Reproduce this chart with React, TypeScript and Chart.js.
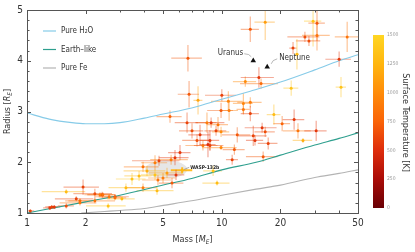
import React, { useEffect, useRef } from "react";
import { Chart, registerables } from "chart.js";
Chart.register(...registerables);

const FONT = '"DejaVu Sans Condensed", "DejaVu Sans", sans-serif';

// Exoplanet sample (mass in Earth masses, radius in Earth radii)
const planetMass = [
  6.70, 6.79, 7.55, 10.0, 10.8, 13.2, 12.9, 14.0, 16.7, 29.4,
  30.8, 26.7, 28.0, 30.8, 44.0, 23.2, 24.3, 40.0, 15.5, 15.9,
  22.7, 40.9, 14.0, 5.42, 6.63, 8.39, 7.03, 7.73, 7.46, 8.00,
  8.49, 6.10, 5.75, 5.49, 4.76, 4.54, 6.26, 3.94, 3.76, 4.13,
  4.54, 4.70, 4.99, 3.94, 3.22, 3.46, 5.55, 5.82, 5.23, 4.65,
  2.43, 2.83, 2.61, 9.91, 10.9, 12.9, 14.0, 18.5, 8.81, 9.56,
  9.34, 9.91, 23.5, 20.4, 24.6, 16.1, 16.7, 12.0, 14.5, 14.8,
  17.3, 26.1, 30.5, 8.69, 8.69, 9.91, 11.6, 11.3, 16.3, 9.02,
  9.45, 1.04, 1.31, 1.34, 1.38, 1.59, 1.59, 1.94, 1.79, 1.87,
  1.87, 2.23, 2.23, 2.37, 2.45, 2.64, 2.83, 3.07,
];
const planetRadius = [
  4.05, 3.34, 3.22, 3.32, 3.20, 3.59, 3.16, 4.62, 4.76, 4.78,
  4.74, 4.47, 4.39, 4.50, 4.47, 4.25, 4.13, 4.03, 3.67, 3.55,
  3.46, 3.48, 3.18, 2.90, 2.78, 2.78, 2.62, 2.54, 2.43, 2.33,
  2.35, 2.19, 2.09, 2.05, 2.03, 1.99, 1.84, 1.91, 1.73, 1.83,
  1.75, 1.65, 1.69, 1.50, 1.50, 1.67, 1.59, 1.75, 1.79, 1.44,
  1.36, 1.32, 1.14, 3.02, 3.02, 3.04, 2.96, 2.94, 2.78, 2.74,
  2.62, 2.60, 2.84, 2.76, 2.62, 2.68, 2.60, 2.54, 2.52, 2.43,
  2.37, 2.43, 2.62, 2.43, 2.33, 2.29, 2.25, 2.05, 2.11, 1.83,
  1.59, 1.04, 1.10, 1.12, 1.12, 1.14, 1.42, 1.51, 1.28, 1.24,
  1.20, 1.38, 1.24, 1.36, 1.36, 1.32, 1.30, 1.28,
];
const massErr = [
  1.2, 0.85, 0.4, 1.8, 2.0, 1.8, 1.5, 1.5, 2.0, 3.0,
  3.0, 5.0, 4.0, 5.0, 6.0, 1.0, 0.5, 6.0, 3.0, 3.5,
  2.0, 2.5, 2.0, 0.8, 0.9, 1.0, 1.0, 1.0, 1.2, 1.5,
  0.8, 0.8, 1.0, 1.2, 1.3, 0.7, 0.79, 0.8, 0.6, 1.0,
  0.7, 0.8, 0.8, 0.7, 0.6, 0.6, 0.8, 0.6, 1.0, 1.0,
  0.4, 0.5, 0.6, 1.5, 1.2, 1.0, 1.5, 1.5, 1.5, 1.2,
  1.2, 1.0, 3.0, 2.0, 4.0, 3.0, 2.0, 2.0, 2.5, 1.5,
  2.0, 3.0, 4.0, 1.0, 1.5, 2.0, 1.5, 0.8, 3.0, 1.0,
  1.5, 0.05, 0.10, 0.10, 0.10, 0.15, 0.40, 0.40, 0.40, 0.30,
  0.40, 0.50, 0.60, 0.40, 0.40, 0.40, 0.40, 0.50,
];
const radiusErr = [
  0.26, 0.26, 0.28, 0.12, 0.20, 0.10, 0.20, 0.25, 0.35, 0.50,
  0.35, 0.10, 0.10, 0.30, 0.30, 0.12, 0.30, 0.15, 0.20, 0.10,
  0.15, 0.20, 0.10, 0.12, 0.20, 0.20, 0.15, 0.20, 0.12, 0.10,
  0.25, 0.15, 0.15, 0.10, 0.10, 0.15, 0.06, 0.10, 0.10, 0.10,
  0.10, 0.10, 0.10, 0.08, 0.08, 0.12, 0.10, 0.10, 0.10, 0.08,
  0.06, 0.05, 0.05, 0.15, 0.20, 0.10, 0.15, 0.20, 0.10, 0.15,
  0.10, 0.10, 0.20, 0.15, 0.15, 0.10, 0.10, 0.15, 0.20, 0.10,
  0.12, 0.05, 0.20, 0.20, 0.10, 0.05, 0.10, 0.10, 0.10, 0.10,
  0.05, 0.03, 0.04, 0.04, 0.04, 0.05, 0.05, 0.15, 0.05, 0.05,
  0.05, 0.10, 0.05, 0.05, 0.05, 0.05, 0.05, 0.05,
];
const planetTemp = [
  700, 700, 1150, 600, 950, 1000, 950, 700, 1100, 1350,
  700, 650, 650, 850, 850, 600, 1300, 550, 550, 800,
  1350, 1350, 900, 750, 600, 900, 650, 550, 650, 850,
  500, 550, 550, 900, 600, 900, 1250, 850, 1300, 1200,
  1350, 850, 900, 900, 1300, 1350, 700, 550, 1100, 1300,
  600, 650, 1350, 700, 900, 850, 600, 1300, 550, 850,
  600, 1000, 550, 750, 850, 550, 650, 700, 600, 550,
  600, 1200, 550, 550, 600, 950, 700, 600, 700, 1350,
  1300, 600, 550, 600, 550, 650, 1300, 600, 600, 800,
  850, 650, 850, 900, 850, 850, 800, 1300,
];
const highlightIndex = 36;
const highlightLabel = "WASP-132b";

// Composition curves
const h2oMass = [1, 1.3, 1.7, 2, 2.5, 3, 4, 5, 7, 10, 14, 20, 30, 40, 50];
const h2oRadius = [2.97, 2.85, 2.78, 2.76, 2.76, 2.78, 2.87, 2.95, 3.07, 3.24, 3.40, 3.58, 3.82, 4.0, 4.12];
const earthMass = [1, 2, 3, 5, 7, 10, 15, 20, 30, 40, 50];
const earthRadius = [1.0, 1.22, 1.35, 1.55, 1.68, 1.85, 2.0, 2.14, 2.34, 2.47, 2.58];
const feMass = [1.9, 2.5, 3, 4, 5, 7, 10, 15, 20, 30, 40, 50];
const feRadius = [1.0, 1.03, 1.05, 1.09, 1.15, 1.24, 1.35, 1.47, 1.55, 1.70, 1.78, 1.85];
const curveNames = ["Pure H\u2082O", "Earth\u2013like", "Pure Fe"];
const curveColors = ["#86cbe8", "#2e9f8e", "#b4b4b4"];

// Solar system
const ssNames = ["Uranus", "Neptune"];
const ssMass = [14.5, 17.1];
const ssRadius = [4.0, 3.88];

// Axes
const xLabeled = [1, 2, 5, 10, 20, 50];
const xMinor = [3, 4, 6, 7, 8, 9, 30, 40];
const yLabeled = [1, 2, 3, 4, 5];
const cbTicks = [0, 250, 500, 750, 1000, 1250, 1500];
const cbTitle = "Surface Temperature [K]";

const cmapStops = [
  [0, 105, 0, 5],
  [250, 170, 12, 8],
  [500, 222, 45, 12],
  [750, 250, 100, 8],
  [1000, 255, 140, 10],
  [1250, 255, 182, 15],
  [1500, 255, 214, 35],
];
function tempRGB(t: number) {
  const s = cmapStops;
  if (t <= s[0][0]) return s[0].slice(1);
  for (let i = 1; i < s.length; i++) {
    if (t <= s[i][0]) {
      const f = (t - s[i - 1][0]) / (s[i][0] - s[i - 1][0]);
      return [1, 2, 3].map((k) => Math.round(s[i - 1][k] + f * (s[i][k] - s[i - 1][k])));
    }
  }
  return s[s.length - 1].slice(1);
}
function tempColor(t: number, a = 1) {
  const [r, g, b] = tempRGB(t);
  return `rgba(${r},${g},${b},${a})`;
}

type Part = { t: string; italic?: boolean; sub?: boolean };
function drawParts(ctx: CanvasRenderingContext2D, parts: Part[], size: number, cx: number, cy: number) {
  const fontFor = (p: Part) => `${p.italic ? "italic " : ""}${p.sub ? size * 0.7 : size}px ${FONT}`;
  let w = 0;
  for (const p of parts) {
    ctx.font = fontFor(p);
    w += ctx.measureText(p.t).width;
  }
  let x = cx - w / 2;
  ctx.textBaseline = "middle";
  ctx.textAlign = "left";
  for (const p of parts) {
    ctx.font = fontFor(p);
    ctx.fillText(p.t, x, p.sub ? cy + size * 0.3 : cy);
    x += ctx.measureText(p.t).width;
  }
}

const decorPlugin = {
  id: "decor",
  beforeDatasetsDraw(chart: any) {
    const { ctx, chartArea: a, scales } = chart;
    const xs = scales.x, ys = scales.y;
    ctx.save();
    ctx.beginPath();
    ctx.rect(a.left, a.top, a.right - a.left, a.bottom - a.top);
    ctx.clip();
    // highlight glow
    const hx = xs.getPixelForValue(planetMass[highlightIndex]);
    const hy = ys.getPixelForValue(planetRadius[highlightIndex]);
    ctx.fillStyle = "rgba(140,140,140,0.22)";
    ctx.beginPath();
    ctx.ellipse(hx - 16, hy - 1, 21, 9, 0, 0, Math.PI * 2);
    ctx.fill();
    for (let i = 0; i < planetMass.length; i++) {
      const m = planetMass[i], r = planetRadius[i];
      const px = xs.getPixelForValue(m), py = ys.getPixelForValue(r);
      const x0 = xs.getPixelForValue(Math.max(m - massErr[i], 0.5));
      const x1 = xs.getPixelForValue(m + massErr[i]);
      const y0 = ys.getPixelForValue(r - radiusErr[i]);
      const y1 = ys.getPixelForValue(r + radiusErr[i]);
      const hl = i === highlightIndex;
      ctx.strokeStyle = tempColor(planetTemp[i], hl ? 0.9 : 0.42);
      ctx.lineWidth = hl ? 2 : 1.2;
      ctx.beginPath();
      ctx.moveTo(x0, py); ctx.lineTo(x1, py);
      ctx.moveTo(px, y0); ctx.lineTo(px, y1);
      ctx.stroke();
    }
    ctx.restore();
  },
  afterDraw(chart: any) {
    const { ctx, chartArea: a, scales } = chart;
    const xs = scales.x, ys = scales.y;
    ctx.save();
    // frame
    ctx.strokeStyle = "#555";
    ctx.lineWidth = 1;
    ctx.strokeRect(Math.round(a.left) + 0.5, Math.round(a.top) + 0.5, Math.round(a.right - a.left), Math.round(a.bottom - a.top));
    // ticks
    ctx.beginPath();
    const xt = (v: number, len: number) => {
      const p = Math.round(xs.getPixelForValue(v)) + 0.5;
      ctx.moveTo(p, a.bottom); ctx.lineTo(p, a.bottom - len);
      ctx.moveTo(p, a.top); ctx.lineTo(p, a.top + len);
    };
    xLabeled.forEach((v) => xt(v, 4));
    xMinor.forEach((v) => xt(v, 2.5));
    for (let k = 0; k <= 20; k++) {
      const v = 1 + k * 0.2;
      const len = k % 5 === 0 ? 4 : 2.5;
      const p = Math.round(ys.getPixelForValue(v)) + 0.5;
      ctx.moveTo(a.left, p); ctx.lineTo(a.left + len, p);
      ctx.moveTo(a.right, p); ctx.lineTo(a.right - len, p);
    }
    ctx.stroke();

    // legend
    ctx.font = `8px ${FONT}`;
    ctx.textBaseline = "middle";
    ctx.textAlign = "left";
    curveNames.forEach((n, i) => {
      const y = 31 + i * 18.5;
      ctx.strokeStyle = curveColors[i];
      ctx.lineWidth = 1.2;
      ctx.beginPath();
      ctx.moveTo(43, y); ctx.lineTo(56, y);
      ctx.stroke();
      ctx.fillStyle = "#333";
      ctx.fillText(n, 61, y);
    });

    // solar system labels
    const ux = xs.getPixelForValue(ssMass[0]), uy = ys.getPixelForValue(ssRadius[0]);
    const nx = xs.getPixelForValue(ssMass[1]), ny = ys.getPixelForValue(ssRadius[1]);
    ctx.fillStyle = "#333";
    ctx.font = `8px ${FONT}`;
    ctx.textAlign = "right";
    ctx.fillText(ssNames[0], ux - 10, uy - 8);
    ctx.textAlign = "left";
    ctx.fillText(ssNames[1], nx + 12, ny - 9);
    ctx.strokeStyle = "#999";
    ctx.lineWidth = 0.7;
    ctx.beginPath();
    ctx.moveTo(ux - 9, uy - 7);
    ctx.quadraticCurveTo(ux - 4, uy - 7, ux - 2, uy - 4);
    ctx.moveTo(nx + 10, ny - 8);
    ctx.quadraticCurveTo(nx + 5, ny - 7, nx + 4, ny - 3);
    ctx.stroke();

    // highlight label
    const hx = xs.getPixelForValue(planetMass[highlightIndex]);
    const hy = ys.getPixelForValue(planetRadius[highlightIndex]);
    ctx.strokeStyle = "#888";
    ctx.beginPath();
    ctx.moveTo(hx + 2, hy - 1); ctx.lineTo(hx + 7, hy - 3);
    ctx.stroke();
    ctx.fillStyle = "#222";
    ctx.font = `bold 5px ${FONT}`;
    ctx.textAlign = "left";
    ctx.fillText(highlightLabel, hx + 8, hy - 3);

    // axis titles
    ctx.fillStyle = "#333";
    drawParts(ctx, [{ t: "Mass [" }, { t: "M", italic: true }, { t: "E", italic: true, sub: true }, { t: "]" }], 9, (a.left + a.right) / 2, 240);
    ctx.save();
    ctx.translate(8, (a.top + a.bottom) / 2);
    ctx.rotate(-Math.PI / 2);
    drawParts(ctx, [{ t: "Radius [" }, { t: "R", italic: true }, { t: "E", italic: true, sub: true }, { t: "]" }], 9, 0, 0);
    ctx.restore();

    // colorbar
    const cbL = 373, cbW = 11, cbT = 35, cbB = 208;
    const g = ctx.createLinearGradient(0, cbB, 0, cbT);
    cmapStops.forEach((s) => g.addColorStop(s[0] / 1500, `rgb(${s[1]},${s[2]},${s[3]})`));
    ctx.fillStyle = g;
    ctx.fillRect(cbL, cbT, cbW, cbB - cbT);
    ctx.fillStyle = "#999";
    ctx.font = `5px ${FONT}`;
    ctx.textAlign = "left";
    ctx.textBaseline = "middle";
    cbTicks.forEach((v) => {
      const y = cbB - (v / 1500) * (cbB - cbT);
      ctx.fillText(String(v), cbL + 14, y);
    });
    ctx.save();
    ctx.translate(405, (cbT + cbB) / 2 + 1);
    ctx.rotate(Math.PI / 2);
    ctx.fillStyle = "#333";
    ctx.font = `9px ${FONT}`;
    ctx.textAlign = "center";
    ctx.fillText(cbTitle, 0, 0);
    ctx.restore();

    ctx.restore();
  },
};

export default function App() {
  const ref = useRef<HTMLCanvasElement>(null);
  useEffect(() => {
    if (!ref.current) return;
    const toXY = (ms: number[], rs: number[]) => ms.map((m, i) => ({ x: m, y: rs[i] }));
    const curve = (ms: number[], rs: number[], c: string) => ({
      type: "line" as const,
      data: toXY(ms, rs),
      borderColor: c,
      borderWidth: 1.1,
      pointRadius: 0,
      showLine: true,
      fill: false,
      cubicInterpolationMode: "monotone" as const,
    });
    const chart = new Chart(ref.current, {
      type: "scatter",
      data: {
        datasets: [
          {
            data: toXY(planetMass, planetRadius),
            pointRadius: 1.5,
            pointBorderWidth: 0,
            pointBackgroundColor: planetTemp.map((t) => tempColor(t)),
          } as any,
          {
            data: toXY(ssMass, ssRadius),
            pointStyle: "triangle",
            pointRadius: 3.2,
            pointBorderWidth: 0,
            pointBackgroundColor: "#111",
          } as any,
          curve(h2oMass, h2oRadius, curveColors[0]) as any,
          curve(earthMass, earthRadius, curveColors[1]) as any,
          curve(feMass, feRadius, curveColors[2]) as any,
        ],
      },
      options: {
        animation: false,
        responsive: false,
        devicePixelRatio: 1,
        layout: { padding: { left: 0, right: 57, top: 10, bottom: 0 } },
        plugins: { legend: { display: false }, tooltip: { enabled: false } },
        scales: {
          x: {
            type: "logarithmic",
            min: 1,
            max: 50,
            afterBuildTicks: (s: any) => {
              s.ticks = xLabeled.map((v) => ({ value: v }));
            },
            afterFit: (s: any) => {
              s.height = 39;
            },
            grid: { display: false, drawTicks: false },
            border: { display: false },
            ticks: {
              autoSkip: false,
              maxRotation: 0,
              padding: 4,
              color: "#333",
              font: { family: FONT, size: 10 },
              callback: (v: any) => String(v),
            },
          },
          y: {
            type: "linear",
            min: 1,
            max: 5,
            afterBuildTicks: (s: any) => {
              s.ticks = yLabeled.map((v) => ({ value: v }));
            },
            afterFit: (s: any) => {
              s.width = 27;
            },
            grid: { display: false, drawTicks: false },
            border: { display: false },
            ticks: {
              padding: 4,
              color: "#333",
              font: { family: FONT, size: 10 },
              callback: (v: any) => String(v),
            },
          },
        },
      },
      plugins: [decorPlugin],
    } as any);
    return () => chart.destroy();
  }, []);
  return (
    <div style={{ position: "absolute", left: 0, top: 0, width: 415, height: 252, background: "#fff" }}>
      <canvas ref={ref} width={415} height={252} style={{ width: 415, height: 252, display: "block" }} />
    </div>
  );
}
